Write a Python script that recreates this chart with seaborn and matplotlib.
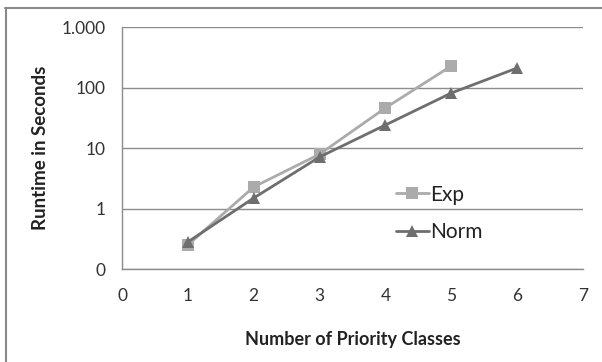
import matplotlib
matplotlib.use("Agg")
import matplotlib.pyplot as plt
from matplotlib.lines import Line2D
import pandas as pd
import seaborn as sns

# Runtime measurements per number of priority classes
classes_exp = [1, 2, 3, 4, 5]
runtime_exp = [0.25, 2.27, 7.9, 46, 227]
classes_norm = [1, 2, 3, 4, 5, 6]
runtime_norm = [0.28, 1.49, 7.1, 24, 81, 210]

y_ticks = [0.1, 1, 10, 100, 1000]
y_tick_labels = ["0", "1", "10", "100", "1.000"]
x_ticks = [0, 1, 2, 3, 4, 5, 6, 7]

df = pd.concat([
    pd.DataFrame({"classes": classes_exp, "runtime": runtime_exp, "dist": "Exp"}),
    pd.DataFrame({"classes": classes_norm, "runtime": runtime_norm, "dist": "Norm"}),
], ignore_index=True)

sns.set_style("white")
plt.rcParams["font.family"] = ["Lato", "DejaVu Sans"]

fig = plt.figure(figsize=(6.02, 3.62), dpi=100)
ax = fig.add_axes([122 / 602, 1 - 269 / 362, 461 / 602, 242 / 362])

palette = {"Exp": "#ababab", "Norm": "#6e6e6e"}
markers = {"Exp": "s", "Norm": "^"}
sns.lineplot(data=df, x="classes", y="runtime", hue="dist", style="dist",
             palette=palette, markers=markers, dashes=False, markersize=9,
             linewidth=2, markeredgewidth=0, ax=ax, legend=False)

ax.set_yscale("log")
ax.set_ylim(0.1, 1000)
ax.set_xlim(0, 7)
ax.set_yticks(y_ticks)
ax.set_yticklabels(y_tick_labels)
ax.minorticks_off()
ax.set_xticks(x_ticks)
ax.set_xticklabels([str(v) for v in x_ticks])

ax.yaxis.grid(True, color="#8c8c8c", linewidth=1)
ax.xaxis.grid(False)
ax.set_axisbelow(True)
for side in ["top", "right"]:
    ax.spines[side].set_visible(False)
for side in ["left", "bottom"]:
    ax.spines[side].set_color("#8c8c8c")
    ax.spines[side].set_linewidth(1)

ax.tick_params(axis="both", which="major", direction="out", length=5, width=1,
               color="#8c8c8c", labelsize=12.5, labelcolor="#333333", pad=7)
ax.tick_params(axis="x", pad=9)

ax.set_xlabel("Number of Priority Classes", fontsize=13, fontweight="bold",
              color="#222222", labelpad=19)
ax.set_ylabel("Runtime in Seconds", fontsize=13.5, fontweight="bold",
              color="#222222", labelpad=9)

handles = [
    Line2D([], [], color=palette[k], marker=markers[k], markersize=9,
           markeredgewidth=0, linewidth=2)
    for k in ["Exp", "Norm"]
]
ax.legend(handles, ["Exp", "Norm"], loc="center left",
          bbox_to_anchor=(0.553, 0.229), frameon=False, fontsize=15,
          handlelength=1.6, handletextpad=0.05, labelspacing=0.85,
          labelcolor="#222222")

# Partial frame around the figure
fig.add_artist(Line2D([5 / 602, 1], [1 - 7.5 / 362, 1 - 7.5 / 362],
                      transform=fig.transFigure, color="#8a8a8a", linewidth=1.5))
fig.add_artist(Line2D([5.5 / 602, 5.5 / 602], [0, 1 - 7.5 / 362],
                      transform=fig.transFigure, color="#8a8a8a", linewidth=1.5))

fig.savefig("out.png", dpi=100)
